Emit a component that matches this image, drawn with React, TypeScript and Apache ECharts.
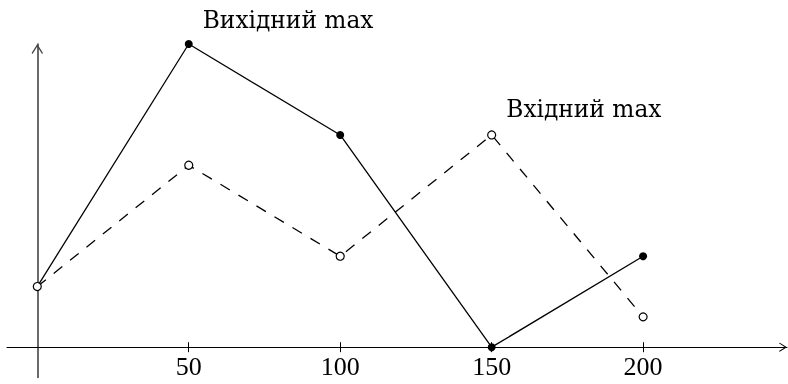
import React, { useEffect, useRef } from "react";
import * as echarts from "echarts";

const xValues = [0, 50, 100, 150, 200];
const outputMax = [2, 10, 7, 0, 3];
const inputMax = [2, 6, 3, 7, 1];
const xTickValues = [50, 100, 150, 200];
const outputLabel = "Вихідний max";
const inputLabel = "Вхідний max";
const outputLabelIndex = 1;
const inputLabelIndex = 3;

const chevron = "path://M5,0 L10,8 L9.2,8.8 L5,2.2 L0.8,8.8 L0,8 Z";

export default function App() {
  const ref = useRef<HTMLDivElement>(null);
  useEffect(() => {
    if (!ref.current) return;
    const chart = echarts.init(ref.current, undefined, { renderer: "svg" });
    const labelStyle = {
      show: true,
      position: "right" as const,
      fontFamily: "DejaVu Serif",
      fontSize: 23.3,
      color: "#000",
    };
    const solidData = xValues.map((x, i) => {
      const item: any = { value: [x, outputMax[i]] };
      if (i === 0) item.symbol = "none";
      if (i === outputLabelIndex)
        item.label = { ...labelStyle, formatter: outputLabel, offset: [5, -25] };
      return item;
    });
    const dashedData = xValues.map((x, i) => {
      const item: any = { value: [x, inputMax[i]] };
      if (i === inputLabelIndex)
        item.label = { ...labelStyle, formatter: inputLabel, offset: [5, -26] };
      return item;
    });
    const xCommon = {
      type: "value" as const,
      min: -10,
      max: 247.5,
      splitLine: { show: false },
    };
    chart.setOption({
      animation: false,
      grid: { left: 7, right: 1, top: 44, bottom: 6.5, containLabel: false, outerBoundsMode: "none" },
      xAxis: [
        {
          ...xCommon,
          position: "bottom",
          axisLine: {
            show: true,
            onZero: true,
            onZeroAxisIndex: 0,
            symbol: ["none", chevron],
            symbolSize: [10, 8],
            symbolOffset: [0, -4],
            lineStyle: { color: "#000", width: 1.2 },
          },
          axisTick: {
            show: true,
            inside: false,
            length: 5,
            customValues: xTickValues,
            lineStyle: { color: "#000", width: 1 },
          },
          axisLabel: {
            show: true,
            customValues: xTickValues,
            margin: -24,
            fontFamily: "Liberation Serif",
            fontSize: 26,
            color: "#000",
          },
        },
        {
          ...xCommon,
          position: "bottom",
          axisLine: {
            show: true,
            onZero: true,
            onZeroAxisIndex: 0,
            lineStyle: { color: "#000", width: 1, opacity: 0 },
          },
          axisTick: {
            show: true,
            inside: true,
            length: 5,
            customValues: xTickValues,
            lineStyle: { color: "#000", width: 1 },
          },
          axisLabel: { show: false },
        },
      ],
      yAxis: {
        type: "value",
        min: -1,
        max: 10,
        splitLine: { show: false },
        axisTick: { show: false },
        axisLabel: { show: false },
        axisLine: {
          show: true,
          onZero: true,
          symbol: ["none", chevron],
          symbolSize: [12, 10],
          symbolOffset: [0, -5],
          lineStyle: { color: "#444", width: 1.6 },
        },
      },
      series: [
        {
          type: "line",
          xAxisIndex: 0,
          data: solidData,
          clip: false,
          symbol: "circle",
          symbolSize: 8,
          lineStyle: { color: "#000", width: 1.3 },
          itemStyle: { color: "#000" },
          z: 3,
        },
        {
          type: "line",
          xAxisIndex: 0,
          data: dashedData,
          clip: false,
          symbol: "circle",
          symbolSize: 8,
          lineStyle: { color: "#000", width: 1.3, type: [11, 10] },
          itemStyle: { color: "#fff", borderColor: "#000", borderWidth: 1.2 },
          z: 4,
        },
      ],
    });
    return () => chart.dispose();
  }, []);
  return (
    <div
      ref={ref}
      style={{ position: "fixed", left: 0, top: 0, width: 788, height: 384 }}
    />
  );
}
